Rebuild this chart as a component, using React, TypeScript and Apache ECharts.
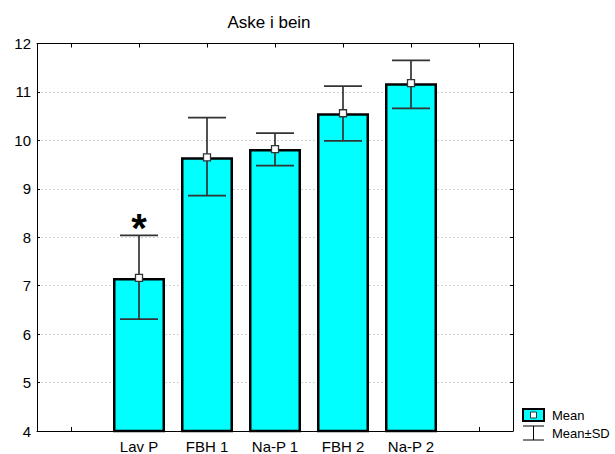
import React, { useEffect, useRef } from "react";
import * as echarts from "echarts";

const title = "Aske i bein";
const categories = ["", "Lav P", "FBH 1", "Na-P 1", "FBH 2", "Na-P 2", ""];
const means: (number | null)[] = [null, 7.16, 9.65, 9.82, 10.56, 11.18, null];
const sdLow: (number | null)[] = [null, 6.31, 8.86, 9.48, 9.99, 10.66, null];
const sdHigh: (number | null)[] = [null, 8.04, 10.47, 10.15, 11.12, 11.65, null];
const marked: boolean[] = [false, true, false, false, false, false, false];
const yMin = 4;
const yMax = 12;
const yStep = 1;
const legendMean = "Mean";
const legendSD = "Mean±SD";

const FONT = "'Liberation Sans', Arial, sans-serif";

export default function App() {
  const ref = useRef<HTMLDivElement>(null);
  useEffect(() => {
    if (!ref.current) return;
    const chart = echarts.init(ref.current, null, { renderer: "svg" });

    const errData = categories
      .map((_, i) => (means[i] == null ? null : [i, sdLow[i], sdHigh[i]]))
      .filter((d) => d !== null);
    const starData = categories
      .map((_, i) => (marked[i] ? [i, sdHigh[i]] : null))
      .filter((d) => d !== null);

    const axisLine = { show: true, lineStyle: { color: "#000", width: 1 } };

    chart.setOption({
      animation: false,
      backgroundColor: "#fff",
      textStyle: { fontFamily: FONT },
      title: {
        text: title,
        left: 264,
        top: 9,
        textAlign: "center",
        textStyle: { fontFamily: FONT, fontSize: 17, fontWeight: "normal", color: "#000" },
      },
      grid: { left: 37, top: 43.5, width: 476, height: 388, containLabel: false },
      xAxis: [
        {
          type: "category",
          data: categories,
          position: "bottom",
          axisLine,
          axisTick: { show: true, inside: true, length: 4, alignWithLabel: true, lineStyle: { color: "#000" } },
          axisLabel: { fontFamily: FONT, fontSize: 15, color: "#000", margin: 8, interval: 0 },
          splitLine: { show: false },
        },
        {
          type: "category",
          data: categories,
          position: "top",
          axisLine,
          axisTick: { show: true, inside: true, length: 4, alignWithLabel: true, lineStyle: { color: "#000" } },
          axisLabel: { show: false },
          splitLine: { show: false },
        },
      ],
      yAxis: [
        {
          type: "value",
          min: yMin,
          max: yMax,
          interval: yStep,
          position: "left",
          axisLine,
          axisTick: { show: true, inside: true, length: 3, lineStyle: { color: "#000" } },
          axisLabel: { fontFamily: FONT, fontSize: 15, color: "#000", margin: 6 },
          splitLine: { show: true, lineStyle: { color: "#d2d2d2", type: [2, 2], width: 1 } },
        },
        {
          type: "value",
          min: yMin,
          max: yMax,
          interval: yStep,
          position: "right",
          axisLine,
          axisTick: { show: true, inside: true, length: 3, lineStyle: { color: "#000" } },
          axisLabel: { show: false },
          splitLine: { show: false },
        },
      ],
      series: [
        {
          type: "bar",
          data: means.map((v) => (v == null ? "-" : v)),
          barWidth: 52,
          itemStyle: { color: "#00ffff", borderColor: "#000", borderWidth: 2.5 },
          z: 2,
        },
        {
          type: "custom",
          data: errData,
          encode: { x: 0, y: [1, 2] },
          z: 3,
          renderItem: (params: any, api: any) => {
            const i = api.value(0);
            const lo = api.coord([i, api.value(1)]);
            const hi = api.coord([i, api.value(2)]);
            const hw = 19;
            const style = { stroke: "#333", lineWidth: 1.7 };
            return {
              type: "group",
              children: [
                { type: "line", shape: { x1: hi[0], y1: hi[1], x2: lo[0], y2: lo[1] }, style },
                { type: "line", shape: { x1: hi[0] - hw, y1: hi[1], x2: hi[0] + hw, y2: hi[1] }, style },
                { type: "line", shape: { x1: lo[0] - hw, y1: lo[1], x2: lo[0] + hw, y2: lo[1] }, style },
              ],
            };
          },
        },
        {
          type: "scatter",
          data: means.map((v) => (v == null ? "-" : v)),
          symbol: "rect",
          symbolSize: 7,
          itemStyle: { color: "#fff", borderColor: "#333", borderWidth: 1.3, opacity: 1 },
          z: 4,
        },
        {
          type: "custom",
          data: starData,
          encode: { x: 0, y: 1 },
          z: 5,
          renderItem: (params: any, api: any) => {
            const p = api.coord([api.value(0), api.value(1)]);
            return {
              type: "text",
              x: p[0],
              y: p[1] + 13,
              style: {
                text: "*",
                fontFamily: FONT,
                fontSize: 40,
                fontWeight: "bold",
                fill: "#000",
                align: "center",
                verticalAlign: "bottom",
              },
            };
          },
        },
      ],
      graphic: [
        {
          type: "rect",
          shape: { x: 523, y: 409, width: 21, height: 12 },
          style: { fill: "#00ffff", stroke: "#000", lineWidth: 2 },
        },
        {
          type: "rect",
          shape: { x: 530.5, y: 412, width: 6, height: 6 },
          style: { fill: "#fff", stroke: "#333", lineWidth: 1 },
        },
        {
          type: "text",
          x: 552,
          y: 415.5,
          style: { text: legendMean, fontFamily: FONT, fontSize: 13, fill: "#000", verticalAlign: "middle" },
        },
        { type: "line", shape: { x1: 523, y1: 426, x2: 544, y2: 426 }, style: { stroke: "#000", lineWidth: 1 } },
        { type: "line", shape: { x1: 533.5, y1: 426, x2: 533.5, y2: 440 }, style: { stroke: "#000", lineWidth: 1 } },
        { type: "line", shape: { x1: 523, y1: 440, x2: 544, y2: 440 }, style: { stroke: "#000", lineWidth: 1 } },
        {
          type: "text",
          x: 552,
          y: 433,
          style: { text: legendSD, fontFamily: FONT, fontSize: 13, fill: "#000", verticalAlign: "middle" },
        },
      ],
    });
    return () => chart.dispose();
  }, []);
  return <div ref={ref} style={{ width: 615, height: 454, position: "absolute", left: 0, top: 0 }} />;
}
